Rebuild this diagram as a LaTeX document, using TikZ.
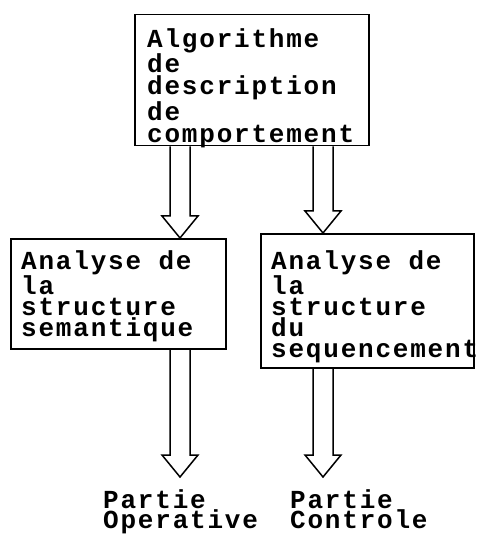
\documentclass[tikz,border=0pt]{standalone}
\usepackage{fontspec}
% widely spaced typewriter face
\newfontfamily\typewriter[LetterSpace=6.9]{Liberation Mono}
\usetikzlibrary{calc}
% hollow block arrow from a start point (#1) down to a tip (#2)
\newcommand\hollowarrow[2]{%
  \draw[blockarrow] let \p1=(#1), \p2=(#2) in
    (\x1-10pt,\y1) -- (\x1-10pt,\y2+22pt) -- (\x1-18pt,\y2+22pt) -- (\x1,\y2)
    -- (\x1+18pt,\y2+22pt) -- (\x1+10pt,\y2+22pt) -- (\x1+10pt,\y1);}
\begin{document}
\begin{tikzpicture}[x=1pt,y=-1pt,
  box/.style={draw, line width=1.5pt, inner sep=0pt, anchor=north west},
  txt/.style={font=\typewriter\bfseries\fontsize{26}{21}\selectfont,
    align=left, inner sep=0pt, anchor=north west,
    execute at begin node={\rule{0pt}{18pt}}},
  toptxt/.style={txt, font=\typewriter\bfseries\fontsize{26}{22.5}\selectfont},
  outtxt/.style={txt, font=\typewriter\bfseries\fontsize{26}{20}\selectfont},
  blockarrow/.style={draw, line width=1.5pt, line join=miter}]
\useasboundingbox (0,0) rectangle (479,534);

% boxes
\node[box, minimum width=234pt, minimum height=131pt] (algo) at (134,14) {};
\node[box, minimum width=215pt, minimum height=110pt] (sem) at (10,238) {};
\node[box, minimum width=213pt, minimum height=134pt] (seq) at (260,233) {};

% box texts
\node[toptxt] (algotxt) at (147,28) {Algorithme\\de\\description\\de\\comportement};
\node[txt] (semtxt) at (21,250) {Analyse de\\la\\structure\\semantique};
\node[txt] (seqtxt) at (271,250) {Analyse de\\la\\structure\\du\\sequencement};

% outputs
\node[outtxt] (op) at (103,489) {Partie\\Operative};
\node[outtxt] (ctl) at (290,489) {Partie\\Controle};

% arrow axes and free tips
\coordinate (ax1) at (180,0);
\coordinate (ax2) at (323,0);
\coordinate (tip1) at (180,477);
\coordinate (tip2) at (323,477);

\hollowarrow{algo.south -| ax1}{sem.north -| ax1}
\hollowarrow{algo.south -| ax2}{seq.north -| ax2}
\hollowarrow{sem.south -| ax1}{tip1}
\hollowarrow{seq.south -| ax2}{tip2}
\end{tikzpicture}
\end{document}
